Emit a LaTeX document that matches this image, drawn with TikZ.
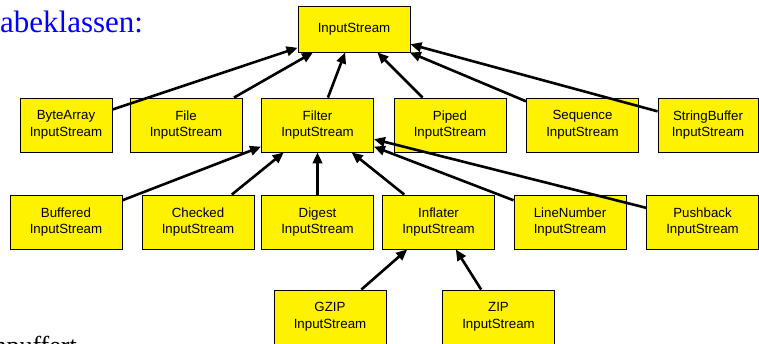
\documentclass[tikz,border=0pt]{standalone}
\usepackage{fontspec}
\setmainfont{Liberation Serif}
\setsansfont{Liberation Sans}
\usetikzlibrary{arrows.meta}
\tikzset{
  klasse/.style={draw=black, line width=0.9pt, fill=yellow, minimum width=112pt, minimum height=54pt,
    inner sep=0pt, align=center, font=\sffamily\fontsize{13.3}{16.7}\selectfont},
  erbt/.style={-{Triangle[length=11pt,width=9.5pt]}, line width=2.6pt}
}
\begin{document}
\begin{tikzpicture}[x=1pt,y=-1pt]
\useasboundingbox (0,0) rectangle (759,344);
\clip (0,0) rectangle (759,344);
\node[blue, anchor=base west, inner sep=0pt, font=\fontsize{31}{37}\selectfont] (titel) at (0,33) {abeklassen:};
\node[anchor=base east, inner sep=0pt, font=\fontsize{26}{31}\selectfont] (rest) at (77,354) {npuffert};
\node[klasse, minimum height=46pt] (input) at (354,29) {InputStream};
\node[klasse, minimum width=92pt] (bytearray) at (66,125) {ByteArray\\InputStream};
\node[klasse] (file) at (186,125) {File\\InputStream};
\node[klasse] (filter) at (317.5,125) {Filter\\InputStream};
\node[klasse] (piped) at (450,125) {Piped\\InputStream};
\node[klasse] (sequence) at (582.5,125) {Sequence\\InputStream};
\node[klasse, minimum width=100pt] (stringbuffer) at (708,125) {StringBuffer\\InputStream};
\node[klasse] (buffered) at (66,222) {Buffered\\InputStream};
\node[klasse] (checked) at (198,222) {Checked\\InputStream};
\node[klasse] (digest) at (317.5,222) {Digest\\InputStream};
\node[klasse] (inflater) at (438.5,222) {Inflater\\InputStream};
\node[klasse] (linenumber) at (570,222) {LineNumber\\InputStream};
\node[klasse] (pushback) at (702.5,222) {Pushback\\InputStream};
\node[klasse] (gzip) at (330,317) {GZIP\\InputStream};
\node[klasse] (zip) at (498.5,317) {ZIP\\InputStream};
\draw[erbt] (bytearray) -- (input);
\draw[erbt] (file) -- (input);
\draw[erbt] (filter) -- (input);
\draw[erbt] (piped) -- (input);
\draw[erbt] (sequence) -- (input);
\draw[erbt] (stringbuffer) -- (input);
\draw[erbt] (buffered) -- (filter);
\draw[erbt] (checked) -- (filter);
\draw[erbt] (digest) -- (filter);
\draw[erbt] (inflater) -- (filter);
\draw[erbt] (linenumber) -- (filter);
\draw[erbt] (pushback) -- (filter);
\draw[erbt] (gzip) -- (inflater);
\draw[erbt] (zip) -- (inflater);
\end{tikzpicture}
\end{document}
